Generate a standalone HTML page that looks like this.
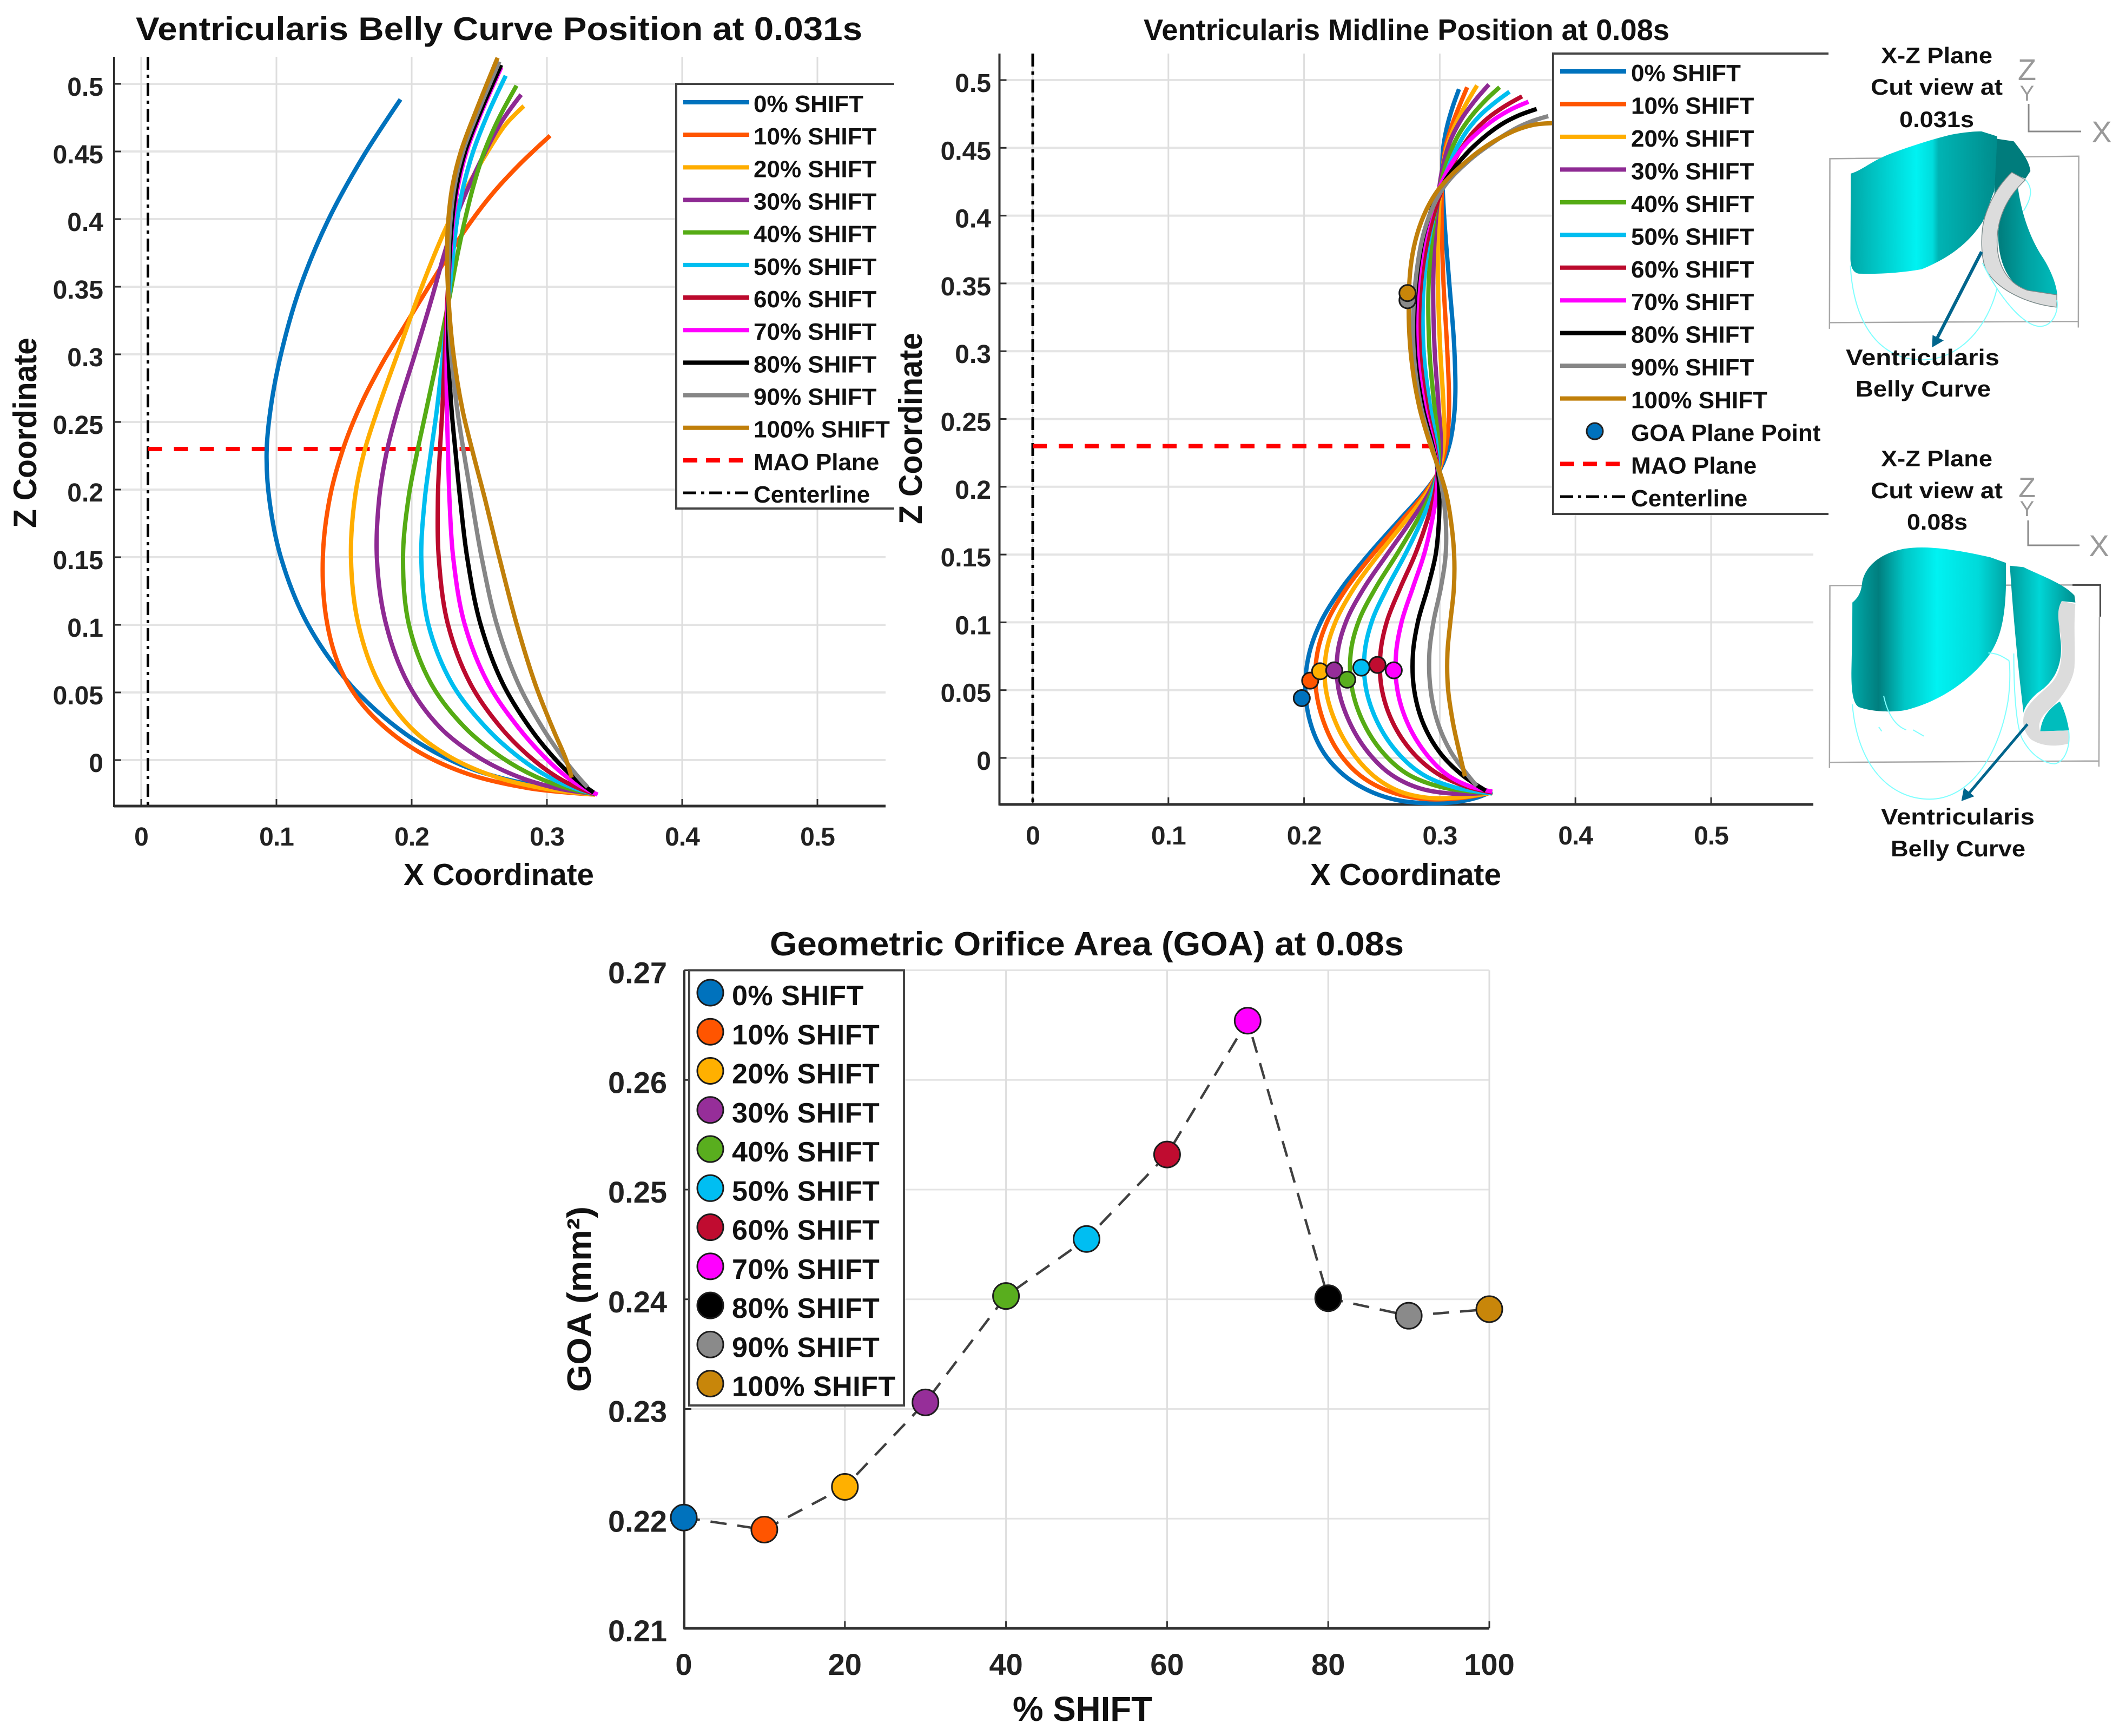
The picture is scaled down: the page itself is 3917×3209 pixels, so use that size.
<!DOCTYPE html>
<html lang="en">
<head>
<meta charset="utf-8">
<title>Ventricularis curves and geometric orifice area</title>
<style>
html,body{margin:0;padding:0;background:#fff;}
svg{display:block;}
text{font-family:"Liberation Sans",sans-serif;font-weight:bold;fill:#111;}
</style>
</head>
<body>
<svg id="figure" xmlns="http://www.w3.org/2000/svg" width="3917" height="3209" viewBox="0 0 3917 3209">
<rect x="0" y="0" width="3917" height="3209" fill="#fff"/>
<defs>
<linearGradient id="g1a" gradientUnits="userSpaceOnUse" x1="195" y1="0" x2="945" y2="0"><stop offset="0" stop-color="#00a8a8"/><stop offset="0.45" stop-color="#00f2f2"/><stop offset="0.56" stop-color="#00dcdc"/><stop offset="0.6" stop-color="#00b4b4"/><stop offset="1" stop-color="#008c8c"/></linearGradient>
<linearGradient id="g1b" gradientUnits="userSpaceOnUse" x1="950" y1="0" x2="1250" y2="0"><stop offset="0" stop-color="#007c7c"/><stop offset="0.5" stop-color="#00a2a2"/><stop offset="1" stop-color="#00bcbc"/></linearGradient>
<linearGradient id="g2a" gradientUnits="userSpaceOnUse" x1="205" y1="0" x2="990" y2="0"><stop offset="0" stop-color="#00a8a8"/><stop offset="0.17" stop-color="#007e7e"/><stop offset="0.34" stop-color="#00c6c6"/><stop offset="0.55" stop-color="#00f2f2"/><stop offset="0.82" stop-color="#00dada"/><stop offset="1" stop-color="#00a6a6"/></linearGradient>
<linearGradient id="g2b" gradientUnits="userSpaceOnUse" x1="1010" y1="0" x2="1345" y2="0"><stop offset="0" stop-color="#009c9c"/><stop offset="0.45" stop-color="#00d6d6"/><stop offset="1" stop-color="#008e8e"/></linearGradient>
</defs>

<text x="251" y="74" font-size="60" textLength="1343" lengthAdjust="spacingAndGlyphs">Ventricularis Belly Curve Position at 0.031s</text>
<text x="746" y="1636" font-size="57" textLength="352" lengthAdjust="spacingAndGlyphs">X Coordinate</text>
<text transform="translate(67,976) rotate(-90)" font-size="60" textLength="352" lengthAdjust="spacingAndGlyphs">Z Coordinate</text>

<text x="2114" y="74" font-size="55" textLength="972" lengthAdjust="spacingAndGlyphs">Ventricularis Midline Position at 0.08s</text>
<text x="2422" y="1636" font-size="57" textLength="353" lengthAdjust="spacingAndGlyphs">X Coordinate</text>
<text transform="translate(1704,969) rotate(-90)" font-size="60" textLength="354" lengthAdjust="spacingAndGlyphs">Z Coordinate</text>

<text x="1423" y="1766" font-size="62" textLength="1172" lengthAdjust="spacingAndGlyphs">Geometric Orifice Area (GOA) at 0.08s</text>
<text x="1872" y="3181" font-size="64" textLength="258" lengthAdjust="spacingAndGlyphs">% SHIFT</text>
<text transform="translate(1092,2573) rotate(-90)" font-size="62" textLength="343" lengthAdjust="spacingAndGlyphs">GOA (mm²)</text>

<!-- Top illustration -->
<g>
<g transform="translate(3350,50) scale(0.36166,0.45914)">
<path d="M88,1215 L90,530 L1362,520 L1360,1210 M85,1190 L1360,1185" fill="none" stroke="#a8a8a8" stroke-width="2.5" vector-effect="non-scaling-stroke"/>
<path d="M197,590 C260,575 300,540 400,510 C500,480 600,455 700,435 C760,425 820,420 865,420 L945,440 L945,540 L930,660 C900,720 880,770 870,785 C800,870 700,930 560,975 C450,990 350,995 240,993 C205,990 195,960 195,930 Z" fill="url(#g1a)"/>
<path d="M945,450 L1030,460 C1070,500 1110,540 1115,580 L1090,610 L1020,590 C980,620 950,650 930,680 Z" fill="#007c7c"/>
<path d="M1050,640 C1070,760 1120,860 1180,930 C1220,980 1250,1040 1252,1080 L1100,1070 Q950,1010 950,830 C960,740 1000,680 1050,640 Z" fill="url(#g1b)"/>
<path d="M1020,585 L1090,615 C1000,680 950,760 945,850 C940,950 990,1030 1100,1060 L1250,1078 L1250,1128 C1100,1115 950,1060 890,980 C860,930 860,830 880,770 C910,690 960,630 1020,585 Z" fill="#dcdcdc" stroke="#7a8a8a" stroke-width="1.5" vector-effect="non-scaling-stroke"/>
<path d="M195,960 C210,1200 350,1340 560,1340 C760,1340 900,1200 945,1050 M870,950 C950,1080 1080,1210 1170,1205 C1240,1200 1260,1130 1250,1100 M1090,615 C1130,650 1120,690 1080,740" fill="none" stroke="#80ffff" stroke-width="2" vector-effect="non-scaling-stroke"/>
<path d="M865,905 L640,1250" fill="none" stroke="#00658c" stroke-width="6" vector-effect="non-scaling-stroke"/>
<path d="M612,1290 L615,1240 L672,1262 Z" fill="#00658c"/>
</g>
<path d="M3750,192 L3750,243 L3847,243" fill="none" stroke="#8a8a8a" stroke-width="3"/>
<text x="3747" y="148" font-size="56" text-anchor="middle" style="font-weight:normal;fill:#999">Z</text>
<text x="3747" y="186" font-size="40" text-anchor="middle" style="font-weight:normal;fill:#999">Y</text>
<text x="3885" y="263" font-size="56" text-anchor="middle" style="font-weight:normal;fill:#999">X</text>
<text x="3477" y="117" font-size="42" textLength="206" lengthAdjust="spacingAndGlyphs">X-Z Plane</text>
<text x="3458" y="175" font-size="42" textLength="244" lengthAdjust="spacingAndGlyphs">Cut view at</text>
<text x="3511" y="235" font-size="42" textLength="138" lengthAdjust="spacingAndGlyphs">0.031s</text>
<text x="3412" y="675" font-size="42" textLength="284" lengthAdjust="spacingAndGlyphs">Ventricularis</text>
<text x="3430" y="733" font-size="42" textLength="250" lengthAdjust="spacingAndGlyphs">Belly Curve</text>
</g>

<!-- Lower illustration -->
<g>
<g transform="translate(3350,800) scale(0.36166,0.52296)">
<path d="M88,1185 L90,540 L1330,538 M1468,650 L1465,1180 M88,1165 L1465,1160" fill="none" stroke="#a8a8a8" stroke-width="2.5" vector-effect="non-scaling-stroke"/>
<path d="M1330,538 L1472,538 L1472,650" fill="none" stroke="#444" stroke-width="3" vector-effect="non-scaling-stroke"/>
<path d="M205,600 C240,580 250,560 255,530 C270,470 350,425 470,410 C600,395 780,420 910,440 L990,460 L990,540 C985,680 950,740 900,790 C800,880 650,950 480,980 C400,990 300,985 240,970 C210,960 200,920 200,850 C203,750 205,680 205,600 Z" fill="url(#g2a)"/>
<path d="M1010,470 L1080,475 C1150,500 1280,530 1340,575 L1345,600 L1275,595 C1255,630 1260,680 1270,740 C1280,820 1240,880 1150,920 C1110,945 1085,970 1080,990 C1060,880 1030,680 1010,470 Z" fill="url(#g2b)"/>
<path d="M1165,1055 C1175,1000 1220,970 1265,950 C1290,980 1305,1020 1312,1052 Z" fill="#00bdbd"/>
<path d="M1275,595 L1345,605 C1335,680 1345,760 1340,830 C1330,890 1260,950 1200,985 C1170,1005 1150,1030 1165,1055 L1312,1052 L1312,1098 C1250,1110 1180,1110 1120,1085 C1080,1060 1070,1020 1085,990 C1110,950 1170,920 1215,890 C1275,850 1280,790 1270,720 C1260,670 1245,630 1275,595 Z" fill="#dcdcdc"/>
<path d="M205,960 C230,1180 400,1295 600,1295 C800,1295 950,1150 1000,950 C1015,880 1010,820 1005,805 C970,790 950,780 900,778 M1030,780 C1030,900 1040,1050 1080,1090 C1130,1150 1200,1170 1240,1170 C1300,1160 1320,1100 1310,1050 M365,930 C390,1010 440,1040 480,1050 M340,1040 L355,1055 M515,1050 L570,1072" fill="none" stroke="#80ffff" stroke-width="2" vector-effect="non-scaling-stroke"/>
<path d="M1100,1030 L800,1275" fill="none" stroke="#00658c" stroke-width="5" vector-effect="non-scaling-stroke"/>
<path d="M762,1302 L775,1255 L828,1285 Z" fill="#00658c"/>
</g>
<path d="M3749,962 L3749,1008 L3844,1008" fill="none" stroke="#8a8a8a" stroke-width="3"/>
<text x="3747" y="919" font-size="52" text-anchor="middle" style="font-weight:normal;fill:#999">Z</text>
<text x="3747" y="954" font-size="40" text-anchor="middle" style="font-weight:normal;fill:#999">Y</text>
<text x="3880" y="1028" font-size="56" text-anchor="middle" style="font-weight:normal;fill:#999">X</text>
<text x="3477" y="862" font-size="42" textLength="206" lengthAdjust="spacingAndGlyphs">X-Z Plane</text>
<text x="3458" y="921" font-size="42" textLength="244" lengthAdjust="spacingAndGlyphs">Cut view at</text>
<text x="3525" y="979" font-size="42" textLength="112" lengthAdjust="spacingAndGlyphs">0.08s</text>
<text x="3477" y="1524" font-size="42" textLength="284" lengthAdjust="spacingAndGlyphs">Ventricularis</text>
<text x="3495" y="1583" font-size="42" textLength="249" lengthAdjust="spacingAndGlyphs">Belly Curve</text>
</g>
</svg>

<script>
// ---- shared labels ----
const seriesNames = ['0% SHIFT','10% SHIFT','20% SHIFT','30% SHIFT','40% SHIFT','50% SHIFT','60% SHIFT','70% SHIFT','80% SHIFT','90% SHIFT','100% SHIFT'];

// ---- left chart: belly curve [x, z] ----
const belly0 = [[.1917,.4885],[.164,.45],[.136,.40],[.1145,.35],[.1015,.30],[.0932,.25],[.0915,.23],[.092,.20],[.0993,.15],[.1167,.10],[.1513,.05],[.199,.012],[.2337,-.005],[.264,-.014],[.2988,-.0214],[.3356,-.0248]];
const belly1 = [[.3023,.4617],[.2771,.4395],[.2589,.4191],[.2424,.3987],[.2186,.3605],[.1947,.3196],[.1774,.2941],[.1622,.2661],[.148,.23],[.1383,.20],[.1301,.15],[.134,.10],[.1448,.0667],[.1557,.0485],[.173,.028],[.199,.0052],[.238,-.013],[.2858,-.0243],[.3356,-.0255]];
const belly2 = [[.2829,.4836],[.2688,.475],[.2568,.45],[.2415,.425],[.2262,.40],[.2086,.357],[.1904,.30],[.1709,.25],[.1644,.23],[.157,.20],[.1513,.15],[.1557,.10],[.173,.05],[.1965,.02],[.2272,0],[.26,-.015],[.30,-.0235],[.3356,-.0255]];
const belly3 = [[.2809,.492],[.2648,.475],[.2554,.45],[.2414,.425],[.2315,.40],[.224,.3767],[.218,.35],[.2034,.30],[.1852,.25],[.1817,.23],[.1752,.20],[.17,.15],[.1765,.10],[.1947,.05],[.2186,.02],[.2489,0],[.279,-.015],[.31,-.0235],[.3356,-.025]];
const belly4 = [[.2775,.4987],[.2634,.475],[.2521,.45],[.2454,.425],[.2394,.40],[.2333,.375],[.23,.35],[.2199,.30],[.2086,.25],[.2051,.23],[.1969,.20],[.1904,.15],[.1915,.10],[.2099,.05],[.24,.02],[.2663,0],[.292,-.015],[.32,-.0235],[.3356,-.025]];
const belly5 = [[.2695,.506],[.2541,.475],[.244,.45],[.238,.425],[.2324,.40],[.2307,.375],[.2285,.35],[.2229,.30],[.2186,.25],[.2142,.23],[.2099,.20],[.2042,.15],[.2056,.10],[.2251,.05],[.258,.02],[.2793,0],[.301,-.015],[.325,-.0235],[.3356,-.025]];
const belly6 = [[.2661,.5125],[.2495,.475],[.2385,.45],[.2335,.425],[.2296,.40],[.2265,.35],[.2242,.30],[.2229,.25],[.2207,.23],[.2186,.20],[.2186,.15],[.2207,.10],[.2402,.05],[.268,.02],[.2879,0],[.3075,-.015],[.328,-.0235],[.3356,-.025]];
const belly7 = [[.2661,.512],[.2495,.475],[.2385,.45],[.2335,.425],[.2296,.40],[.2265,.35],[.225,.30],[.2259,.25],[.2272,.23],[.2272,.20],[.2294,.15],[.2337,.10],[.2533,.05],[.2825,.02],[.2988,0],[.315,-.015],[.33,-.0225],[.3375,-.0255]];
const belly8 = [[.2661,.514],[.2487,.475],[.2373,.45],[.2327,.425],[.2285,.40],[.2265,.35],[.2259,.30],[.2294,.25],[.2329,.23],[.2346,.20],[.2402,.15],[.2467,.10],[.265,.05],[.29,.02],[.3053,0],[.32,-.015],[.3345,-.024]];
const belly9 = [[.2648,.5165],[.2475,.475],[.2355,.45],[.231,.425],[.2272,.40],[.226,.35],[.2272,.30],[.2346,.25],[.2381,.23],[.2433,.20],[.2511,.15],[.2598,.10],[.2771,.05],[.2995,.02],[.3118,0],[.325,-.015],[.33,-.02]];
const belly10 = [[.2635,.5193],[.246,.475],[.234,.45],[.2293,.425],[.2264,.40],[.2253,.375],[.2266,.35],[.2285,.30],[.2381,.25],[.2446,.23],[.2533,.20],[.2641,.15],[.2771,.10],[.291,.05],[.3075,.015],[.3161,0],[.3183,-.013]];
const bellySeries = [belly0,belly1,belly2,belly3,belly4,belly5,belly6,belly7,belly8,belly9,belly10];
const bellyXTicks = [0,.1,.2,.3,.4,.5];
const bellyXLabels = ['0','0.1','0.2','0.3','0.4','0.5'];
const bellyZTicks = [0,.05,.1,.15,.2,.25,.3,.35,.4,.45,.5];
const bellyZLabels = ['0','0.05','0.1','0.15','0.2','0.25','0.3','0.35','0.4','0.45','0.5'];
const bellyMaoZ = [.23];
const bellyMaoX = [.005,.245];
const bellyCenterX = [.005];

// ---- middle chart: midline [x, z] ----
const mid0 = [[.3142,.4933],[.3089,.4807],[.3043,.4634],[.3016,.4488],[.3009,.4368],[.3029,.40],[.3062,.35],[.313,.30],[.313,.25],[.3085,.23],[.3005,.21],[.2943,.20],[.2685,.175],[.2476,.15],[.225,.125],[.2105,.10],[.2015,.08],[.1983,.05],[.2016,.0266],[.2129,0],[.2262,-.0129],[.2488,-.0274],[.2687,-.0334],[.2927,-.0343],[.3153,-.0334],[.3286,-.0301],[.3386,-.0248]];
const mid1 = [[.3202,.4947],[.3142,.4807],[.3089,.4674],[.3036,.4515],[.3009,.4395],[.3009,.40],[.3016,.35],[.3063,.30],[.3085,.25],[.3065,.23],[.30,.21],[.2955,.20],[.2707,.175],[.2507,.15],[.2284,.125],[.2149,.10],[.2072,.08],[.2056,.05],[.2122,.0266],[.2249,0],[.2382,-.0142],[.2621,-.0281],[.2887,-.0327],[.3153,-.0314],[.3386,-.0255]];
const mid2 = [[.3275,.496],[.3195,.4834],[.3116,.4687],[.3049,.4528],[.3009,.4408],[.2983,.40],[.2976,.35],[.2996,.30],[.3041,.25],[.305,.23],[.2997,.21],[.2965,.20],[.2743,.175],[.2551,.15],[.2338,.125],[.2215,.10],[.2135,.08],[.2122,.05],[.2209,.0266],[.2355,0],[.2501,-.0156],[.27,-.0274],[.2887,-.0314],[.3153,-.0307],[.3386,-.0255]];
const mid3 = [[.3362,.4967],[.3262,.486],[.3156,.4727],[.3062,.4554],[.3009,.4395],[.2963,.40],[.2936,.35],[.2952,.30],[.2996,.25],[.303,.23],[.2997,.21],[.297,.20],[.2787,.175],[.2618,.15],[.2418,.125],[.2285,.10],[.2222,.08],[.2215,.05],[.2309,.0266],[.2475,0],[.2608,-.0129],[.282,-.0248],[.3086,-.0294],[.3386,-.0255]];
const mid4 = [[.3441,.4947],[.3342,.4867],[.3222,.4734],[.3116,.4581],[.3036,.4435],[.2943,.40],[.2896,.35],[.2907,.30],[.2965,.25],[.301,.23],[.2998,.21],[.2975,.20],[.2832,.175],[.2698,.15],[.2507,.125],[.2375,.10],[.2318,.08],[.2322,.05],[.2402,.0266],[.2581,0],[.2727,-.0129],[.2967,-.0261],[.3386,-.0261]];
const mid5 = [[.3514,.4914],[.3408,.484],[.3288,.4747],[.3182,.462],[.3076,.4461],[.2923,.40],[.2856,.35],[.285,.30],[.2935,.25],[.2995,.23],[.2998,.21],[.298,.20],[.2863,.175],[.2765,.15],[.2596,.125],[.2475,.10],[.2424,.08],[.2422,.05],[.2508,.0266],[.2687,0],[.2847,-.0142],[.3086,-.0248],[.3386,-.0261]];
const mid6 = [[.3607,.488],[.3474,.4814],[.3342,.4721],[.3222,.4608],[.3116,.4475],[.2905,.40],[.2835,.35],[.2818,.30],[.2905,.25],[.298,.23],[.2998,.21],[.2985,.20],[.2907,.175],[.2841,.15],[.2698,.125],[.2588,.10],[.2544,.08],[.2541,.05],[.2614,.0266],[.2801,0],[.2953,-.0129],[.3193,-.0235],[.3386,-.0255]];
const mid7 = [[.3654,.484],[.3528,.4794],[.3421,.4734],[.3288,.4628],[.3156,.4501],[.3049,.4381],[.289,.40],[.2817,.35],[.2796,.30],[.2885,.25],[.2975,.23],[.2998,.21],[.299,.20],[.2943,.175],[.2907,.15],[.2796,.125],[.2701,.10],[.2664,.08],[.2654,.05],[.2727,.0266],[.2894,0],[.3047,-.0156],[.3219,-.0228],[.3386,-.0248]];
const mid8 = [[.3714,.4787],[.3581,.4747],[.3474,.4694],[.3368,.4621],[.3209,.4488],[.30,.4265],[.288,.40],[.2805,.35],[.2774,.30],[.287,.25],[.2965,.23],[.2998,.21],[.30,.20],[.2996,.175],[.2996,.15],[.2916,.125],[.282,.10],[.2788,.08],[.2787,.05],[.284,.0266],[.2993,0],[.3153,-.0142],[.3339,-.0241]];
const mid9 = [[.38,.4734],[.3687,.4707],[.3554,.4654],[.3421,.4561],[.32,.441],[.30,.4235],[.287,.40],[.28,.35],[.2765,.30],[.2855,.25],[.2955,.23],[.2998,.21],[.3019,.20],[.3054,.175],[.3063,.15],[.3019,.125],[.294,.10],[.2908,.08],[.2914,.05],[.296,.0266],[.3073,0],[.32,-.0103],[.3273,-.0208]];
const mid10 = [[.40,.468],[.3827,.469],[.3687,.4681],[.3581,.4648],[.3421,.4568],[.3288,.4488],[.3156,.4368],[.3062,.4275],[.2983,.4209],[.289,.4049],[.2823,.3863],[.2783,.369],[.2763,.3464],[.2755,.30],[.284,.25],[.2945,.23],[.2996,.21],[.3054,.20],[.3085,.175],[.3117,.15],[.3121,.125],[.3073,.10],[.3048,.08],[.304,.05],[.3093,.0266],[.3153,0],[.3186,-.0136]];
const midSeries = [mid0,mid1,mid2,mid3,mid4,mid5,mid6,mid7,mid8,mid9,mid10];
const midPointX = [.1983,.2045,.2118,.2222,.2318,.2422,.2541,.2661,.2765,.2762,.2762];
const midPointZ = [.0441,.057,.0639,.0646,.0577,.0666,.0686,.0646,.339,.3376,.3429];
const midXTicks = [0,.1,.2,.3,.4,.5];
const midXLabels = ['0','0.1','0.2','0.3','0.4','0.5'];
const midZTicks = [0,.05,.1,.15,.2,.25,.3,.35,.4,.45,.5];
const midZLabels = ['0','0.05','0.1','0.15','0.2','0.25','0.3','0.35','0.4','0.45','0.5'];
const midMaoZ = [.23];
const midMaoX = [0,.305];
const midCenterX = [0];

// ---- bottom chart: GOA ----
const goaShift = [0,10,20,30,40,50,60,70,80,90,100];
const goaValues = [.2201,.2190,.2229,.2306,.2403,.2455,.2532,.2654,.2401,.2385,.2391];
const goaXTicks = [0,20,40,60,80,100];
const goaXLabels = ['0','20','40','60','80','100'];
const goaYTicks = [.21,.22,.23,.24,.25,.26,.27];
const goaYLabels = ['0.21','0.22','0.23','0.24','0.25','0.26','0.27'];

// ---- styles ----
const lineColors = ['#0072BD','#FF5500','#FFAD00','#8E2A93','#55AB14','#00BEF0','#BB0A2D','#FF00FF','#000000','#868686','#C07F0A'];
const markerColors = ['#0072BD','#FF5500','#FFB000','#962E99','#59AE1E','#00BEF2','#C00C30','#FF00FF','#000000','#8A8A8A','#C8860A'];

// ---- axis functions ----
const bellyX = v => 261 + 2500 * v;
const bellyZ = v => 1405 - 2500 * v;
const midX = v => 1909 + 2508 * v;
const midZ = v => 1401 - 2506 * v;
const goaX = v => 1264 + 14.89 * v;
const goaY = v => 3010 - (v - 0.21) * 20275;

const NS = 'http://www.w3.org/2000/svg';
const root = document.getElementById('figure');
function mk(tag, attrs, parent, text) {
  const el = document.createElementNS(NS, tag);
  for (const k in attrs) el.setAttribute(k, attrs[k]);
  if (text !== undefined) el.textContent = text;
  (parent || root).appendChild(el);
  return el;
}
// Gentle relaxation of hand-read samples so reading noise does not show as kinks.
function relax(pts) {
  let cur = pts;
  for (let pass = 0; pass < 2; pass++) {
    cur = cur.map((p, i) => {
      if (i === 0 || i === cur.length - 1) return p;
      const a = cur[i - 1], b = cur[i + 1];
      return [0.2 * a[0] + 0.6 * p[0] + 0.2 * b[0], 0.2 * a[1] + 0.6 * p[1] + 0.2 * b[1]];
    });
  }
  return cur;
}
// Centripetal Catmull-Rom spline converted to cubic Bezier segments.
function smoothPath(raw) {
  const pts = relax(raw);
  const dist = (a, b) => Math.max(Math.sqrt(Math.hypot(a[0] - b[0], a[1] - b[1])), 0.001);
  let d = 'M' + pts[0][0].toFixed(1) + ',' + pts[0][1].toFixed(1);
  for (let i = 0; i < pts.length - 1; i++) {
    const p1 = pts[i], p2 = pts[i + 1];
    const hasPrev = i > 0, hasNext = i < pts.length - 2;
    const p0 = hasPrev ? pts[i - 1] : p1, p3 = hasNext ? pts[i + 2] : p2;
    const d2 = dist(p1, p2);
    let c1 = p1, c2 = p2;
    if (hasPrev) {
      const d1 = dist(p0, p1);
      const den = 3 * d1 * (d1 + d2);
      const k = 2 * d1 * d1 + 3 * d1 * d2 + d2 * d2;
      c1 = [(d1 * d1 * p2[0] - d2 * d2 * p0[0] + k * p1[0]) / den, (d1 * d1 * p2[1] - d2 * d2 * p0[1] + k * p1[1]) / den];
    }
    if (hasNext) {
      const d3 = dist(p2, p3);
      const den = 3 * d3 * (d3 + d2);
      const k = 2 * d3 * d3 + 3 * d3 * d2 + d2 * d2;
      c2 = [(d3 * d3 * p1[0] - d2 * d2 * p3[0] + k * p2[0]) / den, (d3 * d3 * p1[1] - d2 * d2 * p3[1] + k * p2[1]) / den];
    }
    d += 'C' + c1[0].toFixed(1) + ',' + c1[1].toFixed(1) + ' ' + c2[0].toFixed(1) + ',' + c2[1].toFixed(1) + ' ' + p2[0].toFixed(1) + ',' + p2[1].toFixed(1);
  }
  return d;
}
function drawAxes(name, xt, xl, yt, yl, sx, sy, box, font) {
  const g = mk('g', {});
  
  
  yt.forEach((v, i) => {
    const y = sy(v);
    const grid = mk('line', {x1: box.left, x2: box.right, y1: y, y2: y, stroke: '#e4e4e4', 'stroke-width': box.gridH}, g);
    
    
  });
  xt.forEach((v, i) => {
    const x = sx(v);
    const grid = mk('line', {x1: x, x2: x, y1: box.top, y2: box.bottom, stroke: '#dedede', 'stroke-width': box.gridV}, g);
    
    
  });
  const axisY = mk('line', {x1: box.left, x2: box.left, y1: box.top, y2: box.bottom + 2, stroke: '#303030', 'stroke-width': 4}, g);
  
  
  const axisX = mk('line', {x1: box.left, x2: box.right, y1: box.bottom, y2: box.bottom, stroke: '#303030', 'stroke-width': 5}, g);
  
  
  yt.forEach((v, i) => {
    const y = sy(v);
    const tick = mk('line', {x1: box.left, x2: box.left + 13, y1: y, y2: y, stroke: '#303030', 'stroke-width': 3}, g);
    
    
    const label = mk('text', {x: box.yLabelRight, y: y + font.yOff, 'font-size': font.size, 'text-anchor': 'end', style: 'fill:#222'}, g, yl[i]);
    
    
  });
  xt.forEach((v, i) => {
    const x = sx(v);
    const tick = mk('line', {x1: x, x2: x, y1: box.bottom, y2: box.bottom - 13, stroke: '#303030', 'stroke-width': 3}, g);
    
    
    const label = mk('text', {x: x, y: box.xLabelBase, 'font-size': font.size, 'letter-spacing': font.xSpacing, 'text-anchor': 'middle', style: 'fill:#222'}, g, xl[i]);
    
    
  });
}
function drawRefLines(name, sx, sz, maoX, maoZ, centerX, top, bottom) {
  const center = mk('line', {x1: sx(centerX[0]), x2: sx(centerX[0]), y1: top, y2: bottom, stroke: '#000', 'stroke-width': 5, 'stroke-dasharray': '24 9 6 9'});
  
  
  const mao = mk('line', {x1: sx(maoX[0]), x2: sx(maoX[1]), y1: sz(maoZ[0]), y2: sz(maoZ[0]), stroke: '#FF0000', 'stroke-width': 8, 'stroke-dasharray': '26 22'});
  
  
}
function drawCurves(name, series, sx, sz) {
  series.forEach((pts, i) => {
    const p = mk('path', {d: smoothPath(pts.map(q => [sx(q[0]), sz(q[1])])), fill: 'none', stroke: lineColors[i], 'stroke-width': 8, 'stroke-linejoin': 'round'});
    
    
  });
}
function drawLegend(name, box, x1, x2, tx, y0, step, withPoint) {
  const g = mk('g', {});
  
  
  const bg = mk('rect', {x: box.left, y: box.top, width: box.right - box.left, height: box.bottom - box.top, fill: '#fff'}, g);
  
  
  const frame = mk('path', {d: 'M' + box.right + ',' + box.top + 'L' + box.left + ',' + box.top + 'L' + box.left + ',' + box.bottom + 'L' + box.right + ',' + box.bottom, fill: 'none', stroke: '#444', 'stroke-width': 4}, g);
  
  
  let row = 0;
  const addText = (label, y) => {
    const t = mk('text', {x: tx, y: y + 18, 'font-size': 44}, g, label);
    
    
  };
  seriesNames.forEach((label, i) => {
    const y = y0 + step * row;
    const s = mk('line', {x1: x1, x2: x2, y1: y, y2: y, stroke: lineColors[i], 'stroke-width': 8}, g);
    
    
    addText(label, y);
    row++;
  });
  if (withPoint) {
    const y = y0 + step * row;
    const c = mk('circle', {cx: (x1 + x2) / 2 + 3, cy: y, r: 15, fill: lineColors[0], stroke: '#222', 'stroke-width': 3}, g);
    
    
    addText('GOA Plane Point', y);
    row++;
  }
  let y = y0 + step * row;
  const m = mk('line', {x1: x1, x2: x2, y1: y, y2: y, stroke: '#FF0000', 'stroke-width': 8, 'stroke-dasharray': '26 16'}, g);
  
  
  addText('MAO Plane', y);
  row++;
  y = y0 + step * row;
  const cl = mk('line', {x1: x1, x2: x2, y1: y, y2: y, stroke: '#000', 'stroke-width': 5, 'stroke-dasharray': '24 9 6 9'}, g);
  
  
  addText('Centerline', y);
}

// Left chart
drawAxes('belly', bellyXTicks, bellyXLabels, bellyZTicks, bellyZLabels, bellyX, bellyZ,
  {left: 211, right: 1637, top: 105, bottom: 1490, gridH: 4, gridV: 3, yLabelRight: 191, xLabelBase: 1563}, {size: 48, yOff: 22, xSpacing: -1});
drawRefLines('belly', bellyX, bellyZ, bellyMaoX, bellyMaoZ, bellyCenterX, 105, 1490);
drawCurves('belly', bellySeries, bellyX, bellyZ);
drawLegend('belly', {left: 1250, right: 1653, top: 155, bottom: 940}, 1263, 1385, 1393, 189, 60.17, false);

// Middle chart
drawAxes('midline', midXTicks, midXLabels, midZTicks, midZLabels, midX, midZ,
  {left: 1847.5, right: 3352, top: 99, bottom: 1487, gridH: 4, gridV: 3, yLabelRight: 1832, xLabelBase: 1561}, {size: 48, yOff: 22, xSpacing: -1});
drawRefLines('midline', midX, midZ, midMaoX, midMaoZ, midCenterX, 99, 1487);
drawCurves('midline', midSeries, midX, midZ);
midPointX.forEach((x, i) => {
  const c = mk('circle', {cx: midX(x), cy: midZ(midPointZ[i]), r: 15, fill: markerColors[i], stroke: '#1a1a1a', 'stroke-width': 3});
  
  
});
drawLegend('midline', {left: 2871, right: 3380, top: 99, bottom: 950}, 2884, 3006, 3015, 132, 60.46, true);

// Bottom chart
drawAxes('goa', goaXTicks, goaXLabels, goaYTicks, goaYLabels, goaX, goaY,
  {left: 1265, right: 2753, top: 1793.5, bottom: 3010, gridH: 3, gridV: 3, yLabelRight: 1233, xLabelBase: 3096}, {size: 56, yOff: 24, xSpacing: 0});
const goaLine = mk('path', {d: 'M' + goaShift.map((s, i) => goaX(s).toFixed(1) + ',' + goaY(goaValues[i]).toFixed(1)).join('L'), fill: 'none', stroke: '#404040', 'stroke-width': 4.5, 'stroke-dasharray': '30 20'});


goaShift.forEach((s, i) => {
  const c = mk('circle', {cx: goaX(s), cy: goaY(goaValues[i]), r: 24, fill: markerColors[i], stroke: '#1c1c1c', 'stroke-width': 3});
  
  
});
const goaLegend = mk('g', {});


const goaLegendBox = mk('rect', {x: 1274, y: 1793.5, width: 397, height: 804.5, fill: '#fff', stroke: '#444', 'stroke-width': 4}, goaLegend);


seriesNames.forEach((label, i) => {
  const y = 1835 + 72.26 * i;
  const c = mk('circle', {cx: 1313, cy: y, r: 24, fill: markerColors[i], stroke: '#1c1c1c', 'stroke-width': 3}, goaLegend);
  
  
  const t = mk('text', {x: 1353, y: y + 23, 'font-size': 52, 'letter-spacing': 0.5}, goaLegend, label);
  
  
});
</script>
</body>
</html>
